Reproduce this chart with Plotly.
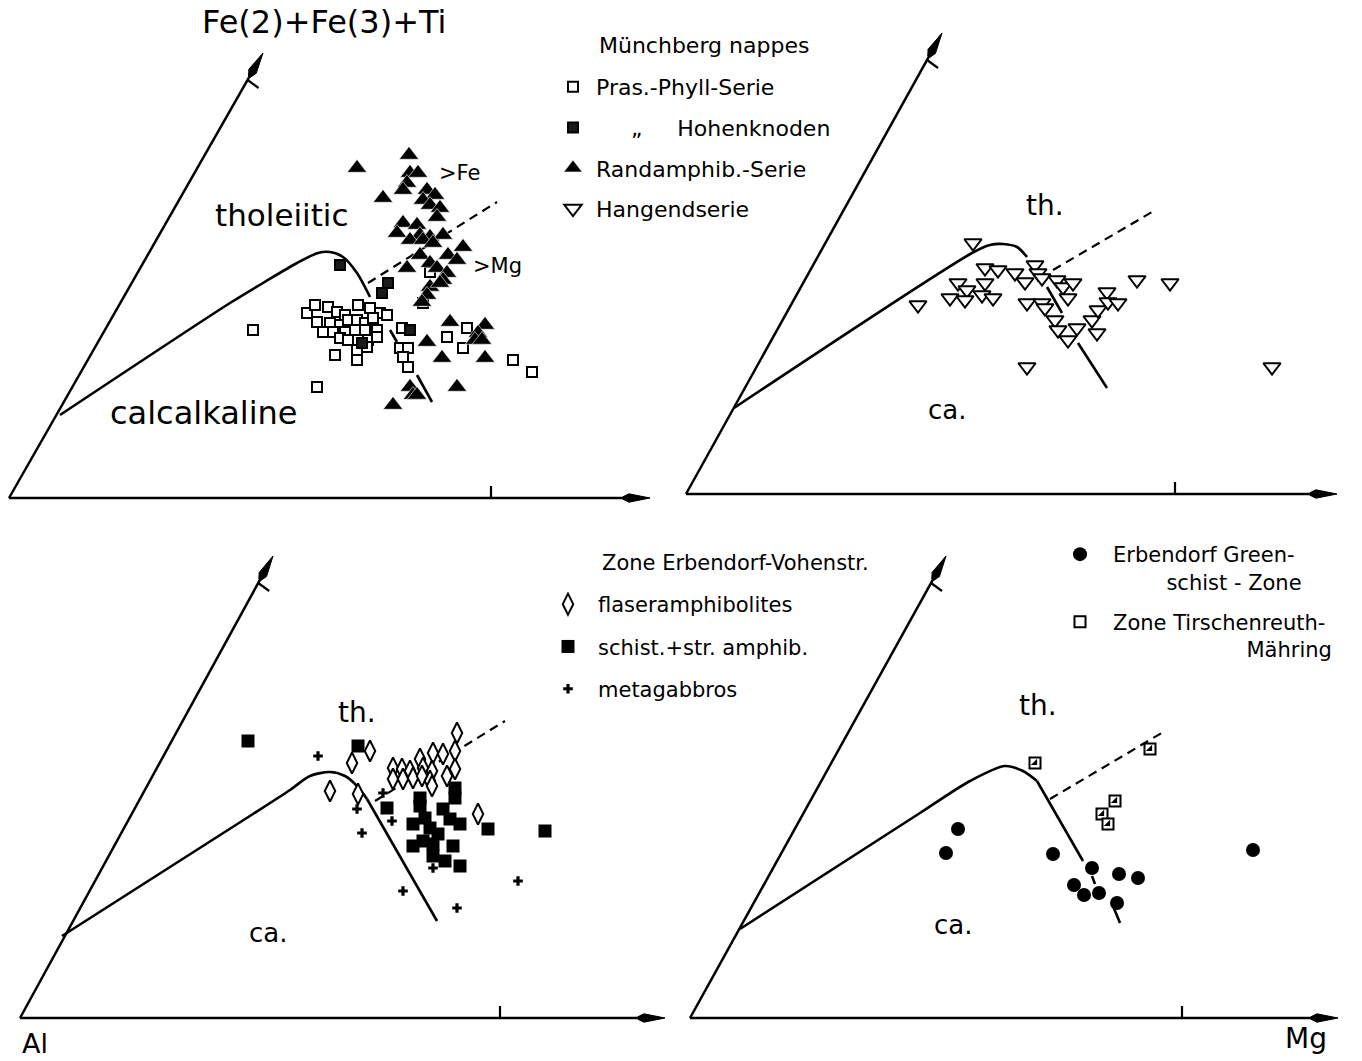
import math
import plotly.graph_objects as go

FONT = "DejaVu Sans"
W, H = 1362, 1061

# ---------------- data (panel units: x along Al->Mg axis, y = height above Al-Mg base) -------------
# Panel 1 - Muenchberg nappes
p1_pras_x = [244, 308, 326, 348, 298, 306, 319, 328, 336, 349, 361, 371, 378, 308, 321, 331, 339, 348, 356, 364,
             314, 324, 336, 346, 356, 368, 331, 339, 349, 359, 368, 348, 358, 393, 391, 399, 394, 399, 438, 458,
             454, 504, 523, 421, 414]
p1_pras_y = [168, 111, 143, 138, 185, 193, 191, 186, 183, 193, 190, 185, 183, 176, 175, 173, 178, 178, 175, 180,
             166, 166, 166, 168, 168, 168, 160, 158, 158, 158, 161, 148, 151, 170, 150, 150, 141, 131, 161, 170,
             150, 138, 126, 226, 195]
p1_hohen_x = [331, 379, 373, 401, 353]
p1_hohen_y = [233, 215, 205, 168, 155]
p1_rand_x = [400, 348, 401, 409, 398, 394, 418, 426, 374, 414, 421, 431, 428, 394, 408, 388, 411, 421, 401, 414,
             434, 424, 454, 439, 448, 411, 398, 421, 428, 438, 434, 421, 431, 418, 413, 441, 476, 469, 466, 473,
             418, 433, 476, 448, 401, 404, 384, 408]
p1_rand_y = [343, 330, 325, 325, 315, 308, 308, 303, 300, 298, 293, 290, 281, 275, 273, 265, 263, 261, 258, 258,
             263, 255, 251, 243, 238, 243, 230, 235, 230, 225, 218, 211, 215, 203, 196, 176, 173, 165, 158, 158,
             156, 140, 140, 111, 111, 103, 93, 103]
# Panel 2 - Hangendserie
p2_hang_x = [287, 299, 312, 329, 339, 349, 352, 356, 371, 377, 387, 382, 272, 281, 299, 264, 279, 296, 307, 232,
             341, 356, 359, 369, 372, 382, 391, 406, 411, 412, 421, 422, 432, 451, 484, 341, 586]
p2_hang_y = [251, 226, 224, 221, 212, 229, 221, 216, 214, 207, 211, 196, 211, 204, 211, 196, 194, 199, 196, 189,
             191, 191, 186, 174, 164, 154, 166, 174, 161, 184, 202, 192, 191, 214, 211, 127, 127]
# Panel 3 - Zone Erbendorf-Vohenstrauss
p3_flaser_x = [437, 435, 350, 332, 400, 413, 423, 373, 382, 390, 403, 412, 435, 373, 383, 393, 402, 410, 427, 412,
               310, 338, 458]
p3_flaser_y = [285, 267, 267, 255, 259, 265, 264, 250, 249, 247, 250, 247, 249, 239, 239, 240, 242, 237, 242, 232,
               227, 224, 204]
p3_schist_x = [228, 338, 367, 400, 400, 435, 435, 423, 430, 440, 393, 410, 418, 393, 403, 413, 433, 413, 425, 440,
               468, 525, 405]
p3_schist_y = [277, 272, 210, 220, 212, 230, 220, 209, 199, 194, 194, 190, 184, 172, 177, 174, 172, 162, 157, 152,
               189, 187, 200]
p3_gabbro_x = [298, 337, 363, 372, 342, 413, 383, 437, 498]
p3_gabbro_y = [262, 209, 225, 197, 185, 150, 127, 110, 137]
# Panel 4 - Erbendorf greenschist zone / Zone Tirschenreuth-Maehring
p4_green_x = [268, 256, 363, 402, 429, 448, 384, 394, 409, 427, 563]
p4_green_y = [189, 165, 164, 150, 144, 140, 133, 123, 125, 115, 168]
p4_tirsch_x = [345, 460, 425, 412, 418]
p4_tirsch_y = [255, 269, 217, 204, 194]

# tholeiitic / calc-alkaline boundary lines per panel
p1_curve_x = [51, 221, 254, 288, 309, 321, 334, 348, 361]
p1_curve_y = [83, 195, 215, 235, 245, 246, 241, 225, 201]
p1_trend_x = [381, 388, None, 408, 423]
p1_trend_y = [168, 156, None, 123, 96]
p1_dash_x = [359, 488]
p1_dash_y = [215, 296]

p2_curve_x = [48, 286, 304, 317, 331, 341]
p2_curve_y = [86, 241, 249, 250, 247, 237]
p2_trend_x = [361, 376, None, 392, 421]
p2_trend_y = [207, 181, None, 151, 106]
p2_dash_x = [367, 466]
p2_dash_y = [224, 282]

p3_curve_x = [42, 233, 270, 290, 310, 325, 337, 347]
p3_curve_y = [82, 204, 228, 242, 246, 242, 232, 219]
p3_trend_x = [347, 417]
p3_trend_y = [219, 97]
p3_dash_x = [355, 485]
p3_dash_y = [217, 297]

p4_curve_x = [50, 230, 280, 315, 333, 347]
p4_curve_y = [89, 205, 237, 252, 247, 237]
p4_trend_x = [347, 393, None, 402, 405, None, 423, 430]
p4_trend_y = [237, 157, None, 142, 134, None, 112, 95]
p4_dash_x = [360, 475]
p4_dash_y = [219, 287]

# ---------------- layout geometry ----------------
frames = [
    dict(box=(0, 0, 681, 525), origin=(9, 498), h_tip=641, h_tick=482, s_tip=(254, 445)),
    dict(box=(681, 0, 1362, 525), origin=(686, 494), h_tip=651, h_tick=489, s_tip=(256, 461)),
    dict(box=(0, 525, 681, 1061), origin=(20, 1018), h_tip=645, h_tick=480, s_tip=(253, 462)),
    dict(box=(681, 525, 1362, 1061), origin=(690, 1018), h_tip=648, h_tick=492, s_tip=(256, 462)),
]

fig = go.Figure()


def refs(i):
    s = "" if i == 1 else str(i)
    return "x" + s, "y" + s


def arrow(xr, yr, tx, ty, L=27.0, w=4.2):
    """axis line from the origin to (tx, ty) with an elongated filled head"""
    d = math.hypot(tx, ty)
    ux, uy = tx / d, ty / d
    nx, ny = -uy, ux
    bx, by = tx - L * ux, ty - L * uy
    mx, my = tx - 0.78 * L * ux, ty - 0.78 * L * uy
    fig.add_shape(type="line", xref=xr, yref=yr, x0=0, y0=0, x1=bx + 2 * ux, y1=by + 2 * uy,
                  line=dict(color="black", width=2.5))
    path = (f"M {tx},{ty} L {mx + w * nx},{my + w * ny} L {bx + 1.3 * nx},{by + 1.3 * ny} "
            f"L {bx - 1.3 * nx},{by - 1.3 * ny} L {mx - w * nx},{my - w * ny} Z")
    fig.add_shape(type="path", xref=xr, yref=yr, path=path, fillcolor="black",
                  line=dict(color="black", width=1))


for i, f in enumerate(frames, start=1):
    x0, y0, x1, y1 = f["box"]
    ox, oy = f["origin"]
    s = "" if i == 1 else str(i)
    xr, yr = refs(i)
    fig.update_layout({
        "xaxis" + s: dict(domain=[x0 / W, x1 / W], range=[x0 - ox, x1 - ox], visible=False,
                          fixedrange=True, anchor=yr),
        "yaxis" + s: dict(domain=[1 - y1 / H, 1 - y0 / H], range=[oy - y1, oy - y0], visible=False,
                          fixedrange=True, anchor=xr),
    })
    arrow(xr, yr, f["h_tip"], 0)
    sx, sy = f["s_tip"]
    arrow(xr, yr, sx, sy)
    # ticks
    fig.add_shape(type="line", xref=xr, yref=yr, x0=f["h_tick"], y0=0, x1=f["h_tick"], y1=12,
                  line=dict(color="black", width=2.2))
    ty = sy - 27
    tx = sx * ty / sy
    fig.add_shape(type="line", xref=xr, yref=yr, x0=tx, y0=ty, x1=tx + 11, y1=ty - 8,
                  line=dict(color="black", width=2.2))

boundaries = [
    (p1_curve_x, p1_curve_y, p1_trend_x, p1_trend_y, p1_dash_x, p1_dash_y),
    (p2_curve_x, p2_curve_y, p2_trend_x, p2_trend_y, p2_dash_x, p2_dash_y),
    (p3_curve_x, p3_curve_y, p3_trend_x, p3_trend_y, p3_dash_x, p3_dash_y),
    (p4_curve_x, p4_curve_y, p4_trend_x, p4_trend_y, p4_dash_x, p4_dash_y),
]
for i, (cx, cy, tx_, ty_, dx, dy) in enumerate(boundaries, start=1):
    xr, yr = refs(i)
    fig.add_trace(go.Scatter(x=cx, y=cy, mode="lines", xaxis=xr, yaxis=yr, showlegend=False,
                             line=dict(color="black", width=2.6, shape="spline", smoothing=0.8),
                             hoverinfo="skip"))
    fig.add_trace(go.Scatter(x=tx_, y=ty_, mode="lines", xaxis=xr, yaxis=yr, showlegend=False,
                             line=dict(color="black", width=2.6), hoverinfo="skip"))
    fig.add_trace(go.Scatter(x=dx, y=dy, mode="lines", xaxis=xr, yaxis=yr, showlegend=False,
                             line=dict(color="black", width=2.2, dash="9px,6px"), hoverinfo="skip"))

NB = "\u00a0"


def pts(x, y, panel, name, marker, legend="legend", show=True):
    xr, yr = refs(panel)
    fig.add_trace(go.Scatter(x=x, y=y, mode="markers", xaxis=xr, yaxis=yr, name=name,
                             marker=marker, legend=legend, legendgroup=name if show else None,
                             showlegend=show))


OPEN_LINE = dict(color="black", width=2)
pts(p1_pras_x, p1_pras_y, 1, "Pras.-Phyll-Serie",
    dict(symbol="square", size=10, color="white", line=OPEN_LINE))
pts(p1_hohen_x, p1_hohen_y, 1, NB * 5 + "\u201e" + NB * 5 + "Hohenknoden",
    dict(symbol="square", size=10, color="#1a1a1a", line=dict(color="black", width=2)))
pts(p1_rand_x, p1_rand_y, 1, "Randamphib.-Serie",
    dict(symbol="triangle-up", size=17, color="black", line=dict(color="white", width=0.6)))
pts(p2_hang_x, p2_hang_y, 2, "Hangendserie",
    dict(symbol="triangle-down", size=15, color="white", line=OPEN_LINE))

pts(p3_flaser_x, p3_flaser_y, 3, "flaseramphibolites",
    dict(symbol="diamond-tall", size=15, color="white", line=OPEN_LINE), legend="legend2")
pts(p3_schist_x, p3_schist_y, 3, "schist.+str. amphib.",
    dict(symbol="square", size=13, color="black", line=dict(color="black", width=0)), legend="legend2")
pts(p3_gabbro_x, p3_gabbro_y, 3, "metagabbros",
    dict(symbol="cross", size=8, color="black", line=dict(width=0)), legend="legend2")

pts(p4_green_x, p4_green_y, 4, "Erbendorf Green-<br>" + NB * 8 + "schist - Zone",
    dict(symbol="circle", size=14, color="black", line=dict(width=0)), legend="legend3")
pts(p4_tirsch_x, p4_tirsch_y, 4, "Zone Tirschenreuth-<br>" + NB * 20 + "Mähring",
    dict(symbol="square", size=11, color="white", line=OPEN_LINE), legend="legend3")
pts(p4_tirsch_x, p4_tirsch_y, 4, "tirsch-fill",
    dict(symbol="triangle-se", size=7, color="black", line=dict(width=0)), legend="legend3", show=False)


def T(text, x, y, size, anchor="center"):
    fig.add_annotation(text=text, x=x / W, y=1 - y / H, xref="paper", yref="paper", showarrow=False,
                       font=dict(family=FONT, size=size, color="black"), xanchor=anchor, yanchor="middle")


T("Fe(2)+Fe(3)+Ti", 324, 22, 32)
T("tholeiitic", 282, 215, 31)
T("calcalkaline", 204, 413, 32)
T(">Fe", 459, 173, 21)
T(">Mg", 497, 266, 21)
T("th.", 1045, 205, 28)
T("ca.", 947, 410, 26)
T("th.", 357, 712, 28)
T("ca.", 268, 933, 26)
T("th.", 1038, 705, 28)
T("ca.", 953, 925, 26)
T("Al", 35, 1043, 27)
T("Mg", 1306, 1038, 28)
T("Münchberg nappes", 597, 45, 22, "left")
T("Zone Erbendorf-Vohenstr.", 600, 563, 21, "left")

LEG = dict(xanchor="left", yanchor="top", bgcolor="rgba(0,0,0,0)", borderwidth=0,
           font=dict(family=FONT, size=22, color="black"), tracegroupgap=9, itemclick=False,
           itemdoubleclick=False, valign="top")
fig.update_layout(
    width=W, height=H, margin=dict(l=0, r=0, t=0, b=0),
    paper_bgcolor="white", plot_bgcolor="white",
    legend=dict(LEG, x=550 / W, y=1 - 66 / H, itemwidth=36),
    legend2=dict(LEG, x=538 / W, y=1 - 584 / H, tracegroupgap=12, itemwidth=50,
                 font=dict(family=FONT, size=21, color="black")),
    legend3=dict(LEG, x=1047 / W, y=1 - 534 / H, tracegroupgap=10, itemwidth=56,
                 font=dict(family=FONT, size=21, color="black")),
    showlegend=True,
)

fig.write_html("out.html", config={"displayModeBar": False},
               post_script="document.body.style.margin='0';")
